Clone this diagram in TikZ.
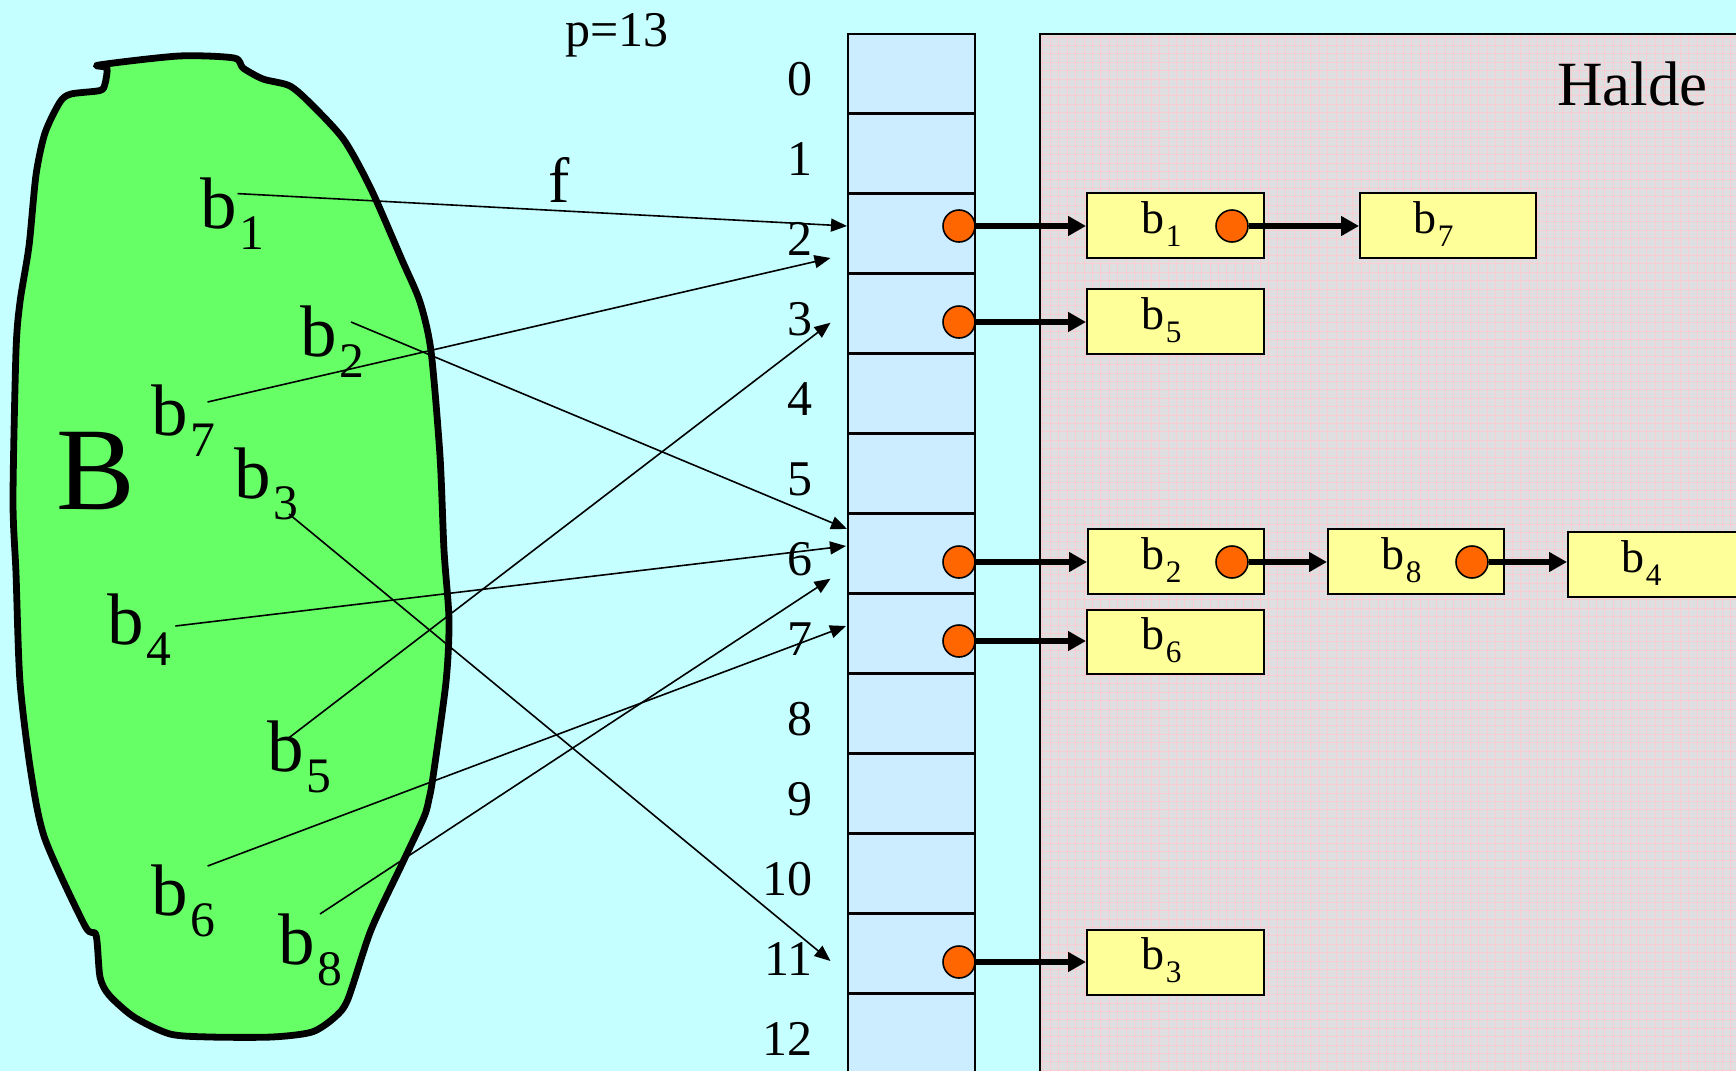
\documentclass[tikz,border=0pt]{standalone}
\usepackage{fontspec}
\setmainfont{Liberation Serif}
\usetikzlibrary{arrows.meta}
\definecolor{bgcyan}{RGB}{198,255,255}
\definecolor{tabblue}{RGB}{204,236,255}
\definecolor{blobgreen}{RGB}{102,255,102}
\definecolor{boxyellow}{RGB}{255,255,153}
\definecolor{dotorange}{RGB}{255,102,0}
\definecolor{heapgrey}{RGB}{223,223,226}
\definecolor{heappink}{RGB}{250,205,210}
\newcommand\bsub[1]{b\kern0.03em\raisebox{-0.3em}{\scalebox{0.68}{#1}}}
\tikzset{
  biglabel/.style={inner sep=0pt, anchor=base west, font=\fontsize{36.5pt}{40pt}\selectfont},
  numlabel/.style={inner sep=0pt, anchor=base east, font=\fontsize{25pt}{28pt}\selectfont},
  boxlabel/.style={inner sep=0pt, anchor=base west, font=\fontsize{23pt}{26pt}\selectfont},
  listbox/.style={draw=black, line width=1pt, fill=boxyellow},
  ptrdot/.style={circle, draw=black, line width=0.8pt, fill=dotorange, minimum size=16pt, inner sep=0pt},
  thinarrow/.style={line width=0.8pt, -{Triangle[length=8pt,width=6.5pt]}},
  thickarrow/.style={line width=2.6pt, -{Triangle[length=9pt,width=9.5pt]}},
  gridline/.style={draw=heappink, line width=0.4pt},
}
\begin{document}
\begin{tikzpicture}[x=0.5pt,y=-0.5pt]
\useasboundingbox (0,0) rectangle (1736,1071);
\fill[bgcyan] (0,0) rectangle (1736,1071);

% heap area
\fill[heapgrey] (1040,33.5) rectangle (1745,1080);
\begin{scope}
\clip (1040,33.5) rectangle (1745,1080);
\foreach \i in {0,...,84} \draw[gridline] ({1042+\i*8.4},33.5) -- ++(0,1050);
\foreach \j in {0,...,125} \draw[gridline] (1040,{37+\j*8.4}) -- ++(710,0);
\end{scope}
\draw[line width=1pt] (1040,1080) -- (1040,33.5) -- (1745,33.5);
\node[inner sep=0pt, anchor=base west, font=\fontsize{31.5pt}{34pt}\selectfont] (halde) at (1557,105) {Halde};

% hash table
\fill[tabblue] (848,33.5) rectangle (975,1080);
\draw[line width=1pt] (848,1080) -- (848,33.5) -- (975,33.5) -- (975,1080);
\foreach \k in {1,...,12} \draw[line width=1.1pt] (848,{33.5+80*\k}) -- (975,{33.5+80*\k});
\foreach \k in {0,...,12} \node[numlabel] (n\k) at (813,{95+80*\k}) {\k};

\node[inner sep=0pt, anchor=base west, font=\fontsize{25pt}{28pt}\selectfont] (p) at (565,46) {p=13};

% set B
\draw[line width=3.4pt, fill=blobgreen, line join=round] plot[smooth cycle, tension=0.45] coordinates {
(99,65) (179,56) (234,58) (243,68) (263,79) (290,86) (312,105) (344,140) (371,189) (402,260) (420,302) (431,351) (440,456) (444,550) (449,620) (446,682) (433,777) (429,799) (424,817) (402,864) (371,930) (348,999) (335,1017) (312,1032) (272,1037) (210,1037) (170,1034) (134,1017) (109,995) (100,977) (96,935) (85,926) (45,839) (31,773) (20,682) (16,573) (13,500) (16,351) (20,302) (29,246) (36,175) (45,133) (60,102) (71,94) (100,90.5) (105,84) (107,68)};

\node[inner sep=0pt, anchor=base west, font=\fontsize{59pt}{62pt}\selectfont] (B) at (56,509) {B};
\node[biglabel] (lb1) at (200,228) {\bsub{1}};
\node[biglabel] (lb2) at (300,356) {\bsub{2}};
\node[biglabel] (lb7) at (151,435) {\bsub{7}};
\node[biglabel] (lb3) at (234,498) {\bsub{3}};
\node[biglabel] (lb4) at (107,644) {\bsub{4}};
\node[biglabel] (lb5) at (267,771) {\bsub{5}};
\node[biglabel] (lb6) at (151,915) {\bsub{6}};
\node[biglabel] (lb8) at (278,964) {\bsub{8}};
\node[inner sep=0pt, anchor=base west, font=\fontsize{32pt}{34pt}\selectfont] (f) at (548,202) {f};

% mapping lines
\coordinate (s1) at (237.5,193.6); \coordinate (t1) at (847,226);
\coordinate (s2) at (351,322);     \coordinate (t2) at (847,529);
\coordinate (s7) at (207.6,402);   \coordinate (t7) at (830.5,258);
\coordinate (s3) at (289,514);     \coordinate (t3) at (830.5,961);
\coordinate (s4) at (175.4,626);   \coordinate (t4) at (846,546);
\coordinate (s5) at (288,738.5);   \coordinate (t5) at (830.5,322.7);
\coordinate (s6) at (207.6,866);   \coordinate (t6) at (846,626);
\coordinate (s8) at (320,914);     \coordinate (t8) at (830.5,578.7);
\foreach \i in {1,2,7,3,4,5,6,8} \draw[thinarrow] (s\i) -- (t\i);

% list boxes
\node[listbox, minimum width=88.5pt, minimum height=32.5pt, inner sep=0pt] (e1) at (1175.5,225.5) {};
\node[listbox, minimum width=88pt, minimum height=32.5pt, inner sep=0pt] (e7) at (1448,225.5) {};
\node[listbox, minimum width=88.5pt, minimum height=32.5pt, inner sep=0pt] (e5) at (1175.5,321.5) {};
\node[listbox, minimum width=88pt, minimum height=32.5pt, inner sep=0pt] (e2) at (1176,561.5) {};
\node[listbox, minimum width=88pt, minimum height=32.5pt, inner sep=0pt] (e8) at (1416,561.5) {};
\node[listbox, minimum width=88.5pt, minimum height=32.5pt, inner sep=0pt] (e4) at (1656.5,564.5) {};
\node[listbox, minimum width=88.5pt, minimum height=32pt, inner sep=0pt] (e6) at (1175.5,642) {};
\node[listbox, minimum width=88.5pt, minimum height=32.5pt, inner sep=0pt] (e3) at (1175.5,962.5) {};

\node[boxlabel] (le1) at (1141,233) {\bsub{1}};
\node[boxlabel] (le7) at (1413,233) {\bsub{7}};
\node[boxlabel] (le5) at (1141,329) {\bsub{5}};
\node[boxlabel] (le2) at (1141,569) {\bsub{2}};
\node[boxlabel] (le8) at (1381,569) {\bsub{8}};
\node[boxlabel] (le4) at (1621,572) {\bsub{4}};
\node[boxlabel] (le6) at (1141,649) {\bsub{6}};
\node[boxlabel] (le3) at (1141,969) {\bsub{3}};

% pointer dots
\node[ptrdot] (d2) at (959,226) {};
\node[ptrdot] (d3) at (959,322) {};
\node[ptrdot] (d6) at (959,562) {};
\node[ptrdot] (d7) at (959,641) {};
\node[ptrdot] (d11) at (959,962) {};
\node[ptrdot] (db1) at (1232,226) {};
\node[ptrdot] (db2) at (1232,562) {};
\node[ptrdot] (db8) at (1472,562) {};

\draw[thickarrow] (d2.east) -- (e1.west |- d2.east);
\draw[thickarrow] (d3.east) -- (e5.west |- d3.east);
\draw[thickarrow] (d6.east) -- (e2.west |- d6.east);
\draw[thickarrow] (d7.east) -- (e6.west |- d7.east);
\draw[thickarrow] (d11.east) -- (e3.west |- d11.east);
\draw[thickarrow] (db1.east) -- (e7.west |- db1.east);
\draw[thickarrow] (db2.east) -- (e8.west |- db2.east);
\draw[thickarrow] (db8.east) -- (e4.west |- db8.east);
\end{tikzpicture}
\end{document}
